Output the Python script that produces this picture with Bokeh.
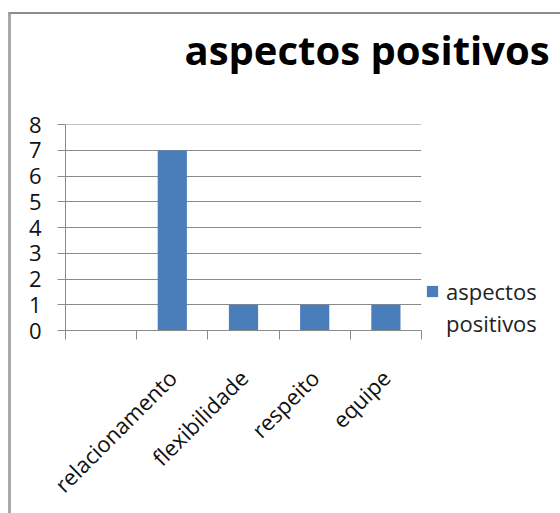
from bokeh.plotting import figure
from bokeh.models import FixedTicker, Legend, LegendItem, Range1d, Title
from bokeh.embed import file_html
from bokeh.resources import INLINE

# Data
categories = ["", "relacionamento", "flexibilidade", "respeito", "equipe"]
values = [0, 7, 1, 1, 1]
series_name = "aspectos positivos"
legend_lines = ["aspectos", "positivos"]
y_ticks = [0, 1, 2, 3, 4, 5, 6, 7, 8]

FONT = "Open Sans"
BAR = "#4a7ebb"
GRID = "#8a8a8a"

centers = [i + 0.5 for i in range(len(categories))]
bounds = [float(i) for i in range(len(categories) + 1)]

# a hair of headroom so the grid line at the top tick is kept
p = figure(
    frame_width=356, frame_height=206,
    x_range=Range1d(0, len(categories)),
    y_range=Range1d(y_ticks[0], y_ticks[-1] + 0.01),
    output_backend="svg", toolbar_location=None,
    min_border_left=54, min_border_right=134,
    min_border_top=110, min_border_bottom=183,
    title=None,
)
p.margin = (12, 0, 0, 8)
p.styles = {
    "border-top": "2px solid #8c8c8c",
    "border-left": "3px solid #a8a8a8",
    "border-right": "1px solid #e2e2e2",
}
p.outline_line_color = None
p.background_fill_color = "white"
p.border_fill_color = "white"

# blank strip between the plot area and the title
p.add_layout(Title(text=" ", text_font_size="1px", standoff=40), "above")
p.add_layout(Title(text=series_name, text_font=FONT, text_font_style="bold",
                   text_font_size="40px", text_color="#000000",
                   align="left", offset=119, standoff=10), "above")

bars = p.vbar(x=centers, top=values, width=0.41, bottom=0,
              fill_color=BAR, line_color=None)

# x axis: tick marks between categories, names at the centres
xa = p.below[0]
xa.ticker = FixedTicker(ticks=centers, minor_ticks=bounds)
xa.major_label_overrides = {c: name for c, name in zip(centers, categories)}
xa.major_label_orientation = 0.785398
xa.major_tick_in = 0
xa.major_tick_out = 0
xa.minor_tick_in = 0
xa.minor_tick_out = 9
xa.minor_tick_line_color = GRID
xa.axis_line_color = GRID
xa.major_label_text_font = FONT
xa.major_label_text_font_size = "22px"
xa.major_label_text_color = "#111111"
xa.major_label_standoff = 34

ya = p.left[0]
ya.ticker = FixedTicker(ticks=y_ticks)
ya.major_tick_in = 0
ya.major_tick_out = 8
ya.minor_tick_line_color = None
ya.major_tick_line_color = GRID
ya.axis_line_color = GRID
ya.bounds = (y_ticks[0], y_ticks[-1])
ya.major_label_text_font = FONT
ya.major_label_text_font_size = "22px"
ya.major_label_text_color = "#111111"
ya.major_label_standoff = 16

p.xgrid.grid_line_color = None
p.ygrid.grid_line_color = GRID
p.ygrid.grid_line_width = 1

legend = Legend(
    items=[LegendItem(label=legend_lines[0], renderers=[bars]),
           LegendItem(label=legend_lines[1], renderers=[])],
    location=(4, -8),
    padding=0, margin=0, spacing=2,
    border_line_color=None, background_fill_alpha=0,
    glyph_width=14, glyph_height=14, label_standoff=7,
    label_text_font=FONT, label_text_font_size="22px",
    label_text_color="#222222",
)
p.add_layout(legend, "right")

open("out.html", "w").write(file_html(p, INLINE))
